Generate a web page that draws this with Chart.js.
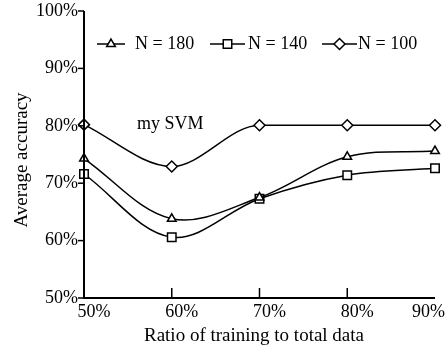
<!DOCTYPE html>
<html>
<head>
<meta charset="utf-8">
<script src="https://cdn.jsdelivr.net/npm/chart.js@4/dist/chart.umd.min.js"></script>
<style>
  html, body { margin: 0; padding: 0; background: #fff; }
  #wrap { width: 445px; height: 347px; }
</style>
</head>
<body>
<div id="wrap"><canvas id="chart"></canvas></div>
<script>
// data
const ratios = ['50%', '60%', '70%', '80%', '90%'];
const yTicks = [50, 60, 70, 80, 90, 100];
const n180 = [74.3, 63.8, 67.5, 74.6, 75.6];
const n140 = [71.6, 60.6, 67.3, 71.4, 72.6];
const n100 = [80.2, 72.9, 80.1, 80.1, 80.1];

const serif = '"Liberation Serif", "Times New Roman", serif';
const legendPos = [[97, 125, 135], [210, 245, 248], [322, 357, 358]];

// axes, ticks, titles, legend and note are drawn here
const decor = {
  id: 'decor',
  afterDatasetsDraw(chart) {
    const ctx = chart.ctx;
    const x = chart.scales.x, y = chart.scales.y;
    const area = chart.chartArea;
    ctx.save();
    ctx.strokeStyle = '#000';
    ctx.fillStyle = '#000';

    // axis lines
    ctx.lineWidth = 2;
    ctx.beginPath();
    ctx.moveTo(area.left, area.top);
    ctx.lineTo(area.left, area.bottom);
    ctx.lineTo(area.right, area.bottom);
    ctx.stroke();

    // y ticks + labels
    ctx.lineWidth = 1.5;
    ctx.font = '18px ' + serif;
    ctx.textAlign = 'right';
    ctx.textBaseline = 'middle';
    yTicks.forEach(v => {
      const py = y.getPixelForValue(v);
      ctx.beginPath();
      ctx.moveTo(area.left - 6, py);
      ctx.lineTo(area.left, py);
      ctx.stroke();
      ctx.fillText(v + '%', area.left - 6, py);
    });

    // x ticks (inside) + labels
    ctx.textAlign = 'center';
    ctx.textBaseline = 'top';
    ratios.forEach((lab, i) => {
      const px = x.getPixelForValue(i);
      if (i > 0 && i < ratios.length - 1) {
        ctx.beginPath();
        ctx.moveTo(px, area.bottom);
        ctx.lineTo(px, area.bottom - 10);
        ctx.stroke();
      }
      const w = ctx.measureText(lab).width;
      let cx = px + 10;
      if (cx + w / 2 > chart.width) cx = chart.width - w / 2;
      ctx.fillText(lab, cx, area.bottom + 5);
    });

    // titles
    ctx.font = '19px ' + serif;
    ctx.fillText('Ratio of training to total data', 254, 327);
    ctx.save();
    ctx.translate(22, 160);
    ctx.rotate(-Math.PI / 2);
    ctx.textBaseline = 'middle';
    ctx.fillText('Average accuracy', 0, 0);
    ctx.restore();

    // note
    ctx.font = '18px ' + serif;
    ctx.textAlign = 'left';
    ctx.textBaseline = 'middle';
    ctx.fillText('my SVM', 137, 124);

    // legend
    const ly = 44;
    chart.data.datasets.forEach((ds, i) => {
      const pos = legendPos[i];
      ctx.lineWidth = 1.5;
      ctx.beginPath();
      ctx.moveTo(pos[0], ly);
      ctx.lineTo(pos[1], ly);
      ctx.stroke();
      ctx.fillStyle = '#fff';
      Chart.helpers.drawPoint(ctx, {
        pointStyle: ds.pointStyle,
        radius: ds.pointRadius,
        borderWidth: 1.5
      }, (pos[0] + pos[1]) / 2, ly);
      ctx.fillStyle = '#000';
      ctx.fillText(ds.label, pos[2], ly);
    });
    ctx.restore();
  }
};

function series(label, data, style, r, mode) {
  return {
    label: label,
    data: data,
    borderColor: '#000',
    borderWidth: 1.5,
    pointStyle: style,
    pointRadius: r,
    pointHoverRadius: r,
    pointBackgroundColor: '#fff',
    pointBorderColor: '#000',
    pointBorderWidth: 1.5,
    tension: 0.35,
    cubicInterpolationMode: mode,
    fill: false,
    clip: false
  };
}

new Chart(document.getElementById('chart'), {
  type: 'line',
  data: {
    labels: ratios,
    datasets: [
      series('N = 180', n180, 'triangle', 5, 'default'),
      series('N = 140', n140, 'rect', 6, 'default'),
      series('N = 100', n100, 'rectRot', 5.5, 'monotone')
    ]
  },
  options: {
    responsive: true,
    maintainAspectRatio: false,
    animation: false,
    layout: { padding: { left: 84, right: 10, top: 11, bottom: 49 } },
    plugins: { legend: { display: false }, tooltip: { enabled: false } },
    scales: {
      x: { display: false, offset: false },
      y: { display: false, min: 50, max: 100 }
    }
  },
  plugins: [decor]
});
</script>
</body>
</html>
